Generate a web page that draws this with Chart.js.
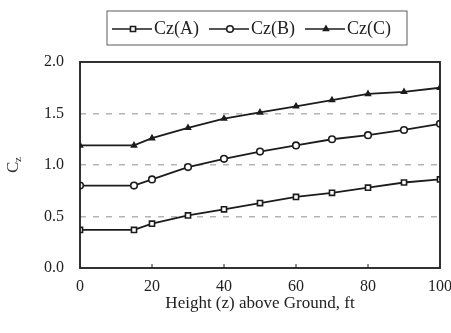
<!DOCTYPE html>
<html>
<head>
<meta charset="utf-8">
<script src="https://cdn.jsdelivr.net/npm/chart.js@4.4.0/dist/chart.umd.min.js"></script>
<style>
  body { margin: 0; background: #fff; overflow: hidden; }
  #chart { display: block; }
</style>
</head>
<body>
<canvas id="chart" width="451" height="333"></canvas>
<script>
const heights = [0, 15, 20, 30, 40, 50, 60, 70, 80, 90, 100];
const czA = [0.37, 0.37, 0.43, 0.51, 0.57, 0.63, 0.69, 0.73, 0.78, 0.83, 0.86];
const czB = [0.80, 0.80, 0.86, 0.98, 1.06, 1.13, 1.19, 1.25, 1.29, 1.34, 1.40];
const czC = [1.19, 1.19, 1.26, 1.36, 1.45, 1.51, 1.57, 1.63, 1.69, 1.71, 1.75];
const seriesNames = ['Cz(A)', 'Cz(B)', 'Cz(C)'];
const xTicks = [0, 20, 40, 60, 80, 100];
const yTicks = [0.0, 0.5, 1.0, 1.5, 2.0];

const serif = '"Liberation Serif", "Times New Roman", serif';
const ink = '#1c1c1c';

function pts(ys) {
  return heights.map((h, k) => ({x: h, y: ys[k]}));
}

function series(label, ys, style, radius, fill) {
  return {
    label: label,
    data: pts(ys),
    borderColor: ink,
    borderWidth: 1.8,
    pointStyle: style,
    pointRadius: radius,
    pointBorderWidth: 1.6,
    pointBackgroundColor: fill,
    pointBorderColor: ink,
    tension: 0,
    fill: false
  };
}

// boxed legend with a line + marker sample, plus frame, inner ticks and the Cz axis label
const decor = {
  id: 'decor',
  afterDraw(chart) {
    const {ctx, chartArea: {left, right, top, bottom}} = chart;
    const xs = chart.scales.x;
    ctx.save();

    // frame
    ctx.strokeStyle = ink;
    ctx.lineWidth = 1.8;
    ctx.strokeRect(left, top, right - left, bottom - top);

    // small inward ticks on the x axis
    ctx.lineWidth = 1;
    xTicks.slice(1, -1).forEach(v => {
      const px = xs.getPixelForValue(v);
      ctx.beginPath();
      ctx.moveTo(px, bottom);
      ctx.lineTo(px, bottom - 4);
      ctx.stroke();
    });

    // y axis label: C with subscript z, rotated
    ctx.translate(14, 166);
    ctx.rotate(-Math.PI / 2);
    ctx.fillStyle = '#333';
    ctx.textBaseline = 'middle';
    ctx.font = '17px ' + serif;
    ctx.fillText('C', -7, 0);
    ctx.font = '11px ' + serif;
    ctx.fillText('z', 4, 4);
    ctx.setTransform(1, 0, 0, 1, 0, 0);

    // legend
    const bx = 107, by = 11, bw = 300, bh = 34;
    ctx.fillStyle = '#fff';
    ctx.fillRect(bx, by, bw, bh);
    ctx.strokeStyle = '#777';
    ctx.lineWidth = 1.2;
    ctx.strokeRect(bx, by, bw, bh);
    ctx.font = '18px ' + serif;
    ctx.textBaseline = 'middle';
    const cy = by + bh / 2 + 1;
    let x = bx + 5;
    chart.data.datasets.forEach(ds => {
      ctx.strokeStyle = ink;
      ctx.lineWidth = 1.6;
      ctx.beginPath();
      ctx.moveTo(x, cy);
      ctx.lineTo(x + 40, cy);
      ctx.stroke();
      ctx.fillStyle = ds.pointBackgroundColor;
      ctx.strokeStyle = ink;
      ctx.lineWidth = ds.pointBorderWidth;
      Chart.helpers.drawPoint(ctx, {
        pointStyle: ds.pointStyle,
        radius: ds.pointRadius,
        borderWidth: ds.pointBorderWidth
      }, x + 21, cy);
      ctx.fillStyle = '#222';
      ctx.fillText(ds.label, x + 42, cy);
      x += 42 + ctx.measureText(ds.label).width + 10;
    });
    ctx.restore();
  }
};

new Chart(document.getElementById('chart'), {
  type: 'line',
  data: {
    datasets: [
      series(seriesNames[0], czA, 'rect', 3.6, '#fff'),
      series(seriesNames[1], czB, 'circle', 3.3, '#fff'),
      series(seriesNames[2], czC, 'triangle', 2.8, ink)
    ]
  },
  options: {
    responsive: false,
    animation: false,
    layout: {padding: {top: 62, right: 11, bottom: 18, left: 0}},
    plugins: {
      legend: {display: false},
      tooltip: {enabled: false}
    },
    scales: {
      x: {
        type: 'linear',
        min: 0,
        max: 100,
        afterBuildTicks(scale) { scale.ticks = xTicks.map(v => ({value: v})); },
        afterFit(scale) {
          scale.height = 47;
          scale.paddingRight = 0;
        },
        grid: {display: false, drawTicks: false},
        border: {display: false},
        ticks: {color: '#222', padding: 9, maxRotation: 0, font: {family: serif, size: 16}},
        title: {
          display: true,
          text: 'Height (z) above Ground, ft',
          color: '#222',
          padding: {top: 0, bottom: 1},
          font: {family: serif, size: 17}
        }
      },
      y: {
        min: 0,
        max: 2,
        afterBuildTicks(scale) { scale.ticks = yTicks.map(v => ({value: v})); },
        afterFit(scale) { scale.width = 80; },
        grid: {
          drawTicks: false,
          color: c => (c.tick.value > 0 && c.tick.value < 2) ? '#b4b4b4' : 'rgba(0,0,0,0)',
          lineWidth: 1.5
        },
        border: {display: false, dash: [6, 7]},
        ticks: {
          color: '#222',
          padding: 16,
          font: {family: serif, size: 16},
          callback: v => v.toFixed(1)
        }
      }
    }
  },
  plugins: [decor]
});
</script>
</body>
</html>
